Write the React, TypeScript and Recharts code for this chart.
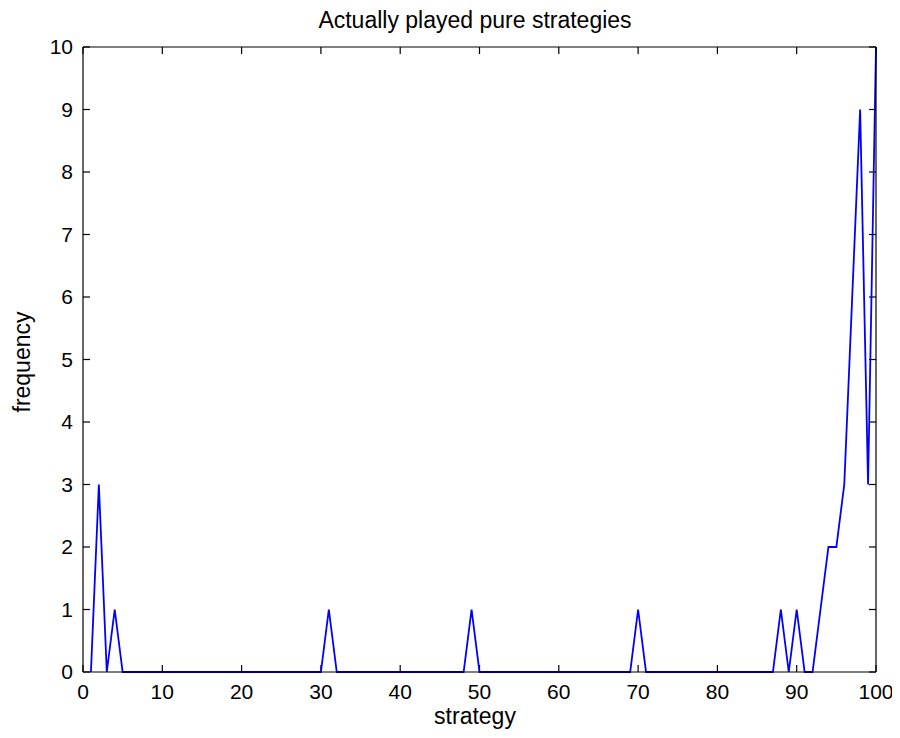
import * as React from 'react';
import { LineChart, Line, XAxis, YAxis, ReferenceLine } from 'recharts';

// frequency of each pure strategy 1..100
const frequencies = [
  0, 3, 0, 1, 0, 0, 0, 0, 0, 0,
  0, 0, 0, 0, 0, 0, 0, 0, 0, 0,
  0, 0, 0, 0, 0, 0, 0, 0, 0, 0,
  1, 0, 0, 0, 0, 0, 0, 0, 0, 0,
  0, 0, 0, 0, 0, 0, 0, 0, 1, 0,
  0, 0, 0, 0, 0, 0, 0, 0, 0, 0,
  0, 0, 0, 0, 0, 0, 0, 0, 0, 1,
  0, 0, 0, 0, 0, 0, 0, 0, 0, 0,
  0, 0, 0, 0, 0, 0, 0, 1, 0, 1,
  0, 0, 1, 2, 2, 3, 6, 9, 3, 10,
];
const xTicks = [0, 10, 20, 30, 40, 50, 60, 70, 80, 90, 100];
const yTicks = [0, 1, 2, 3, 4, 5, 6, 7, 8, 9, 10];

const data = frequencies.map((f, i) => ({ strategy: i + 1, frequency: f }));

const FONT = '"Liberation Sans", Arial, sans-serif';
const tickFont = { fontSize: 21, fill: '#000', fontFamily: FONT };
const black = { stroke: '#000', strokeWidth: 1.2 };
const TL = 7; // inward tick length, matlab style

// short tick marks at both ends of a vertical reference line
const xTickShape = (p: any) => {
  const top = Math.min(p.y1, p.y2);
  const bot = Math.max(p.y1, p.y2);
  return (
    <g>
      <line x1={p.x1} y1={bot} x2={p.x1} y2={bot - TL} stroke="#000" strokeWidth={1.2} />
      <line x1={p.x1} y1={top} x2={p.x1} y2={top + TL} stroke="#000" strokeWidth={1.2} />
    </g>
  );
};
const yTickShape = (p: any) => {
  const l = Math.min(p.x1, p.x2);
  const r = Math.max(p.x1, p.x2);
  return (
    <g>
      <line x1={l} y1={p.y1} x2={l + TL} y2={p.y1} stroke="#000" strokeWidth={1.2} />
      <line x1={r} y1={p.y1} x2={r - TL} y2={p.y1} stroke="#000" strokeWidth={1.2} />
    </g>
  );
};

export default function App() {
  return (
    <div style={{ position: 'relative', width: 892, height: 730, fontFamily: FONT, color: '#000' }}>
      <div style={{ position: 'absolute', left: 0, width: 934, top: 1, textAlign: 'center', fontSize: 23, lineHeight: '23px' }}>
        Actually played pure strategies
      </div>
      <LineChart width={892} height={730} data={data} margin={{ top: 38, right: 23, left: 0, bottom: 0 }}>
        <XAxis
          xAxisId="b"
          dataKey="strategy"
          type="number"
          domain={[0, 100]}
          ticks={xTicks}
          interval={0}
          height={66}
          tickSize={0}
          tickMargin={12}
          tickLine={false}
          axisLine={black}
          tick={tickFont}
        />
        <XAxis
          xAxisId="t"
          orientation="top"
          dataKey="strategy"
          type="number"
          domain={[0, 100]}
          ticks={xTicks}
          height={1}
          tickLine={false}
          axisLine={black}
          tick={false}
        />
        <YAxis
          yAxisId="l"
          type="number"
          domain={[0, 10]}
          ticks={yTicks}
          interval={0}
          width={75}
          tickSize={0}
          tickMargin={10}
          tickLine={false}
          axisLine={black}
          tick={tickFont}
        />
        <YAxis
          yAxisId="r"
          orientation="right"
          type="number"
          domain={[0, 10]}
          ticks={yTicks}
          width={1}
          tickLine={false}
          axisLine={black}
          tick={false}
        />
        {xTicks.map((t) => (
          <ReferenceLine key={`xt-${t}`} xAxisId="b" yAxisId="l" x={t} shape={xTickShape} />
        ))}
        {yTicks.map((t) => (
          <ReferenceLine key={`yt-${t}`} xAxisId="b" yAxisId="l" y={t} shape={yTickShape} />
        ))}
        <Line
          xAxisId="b"
          yAxisId="l"
          type="linear"
          dataKey="frequency"
          stroke="#0000ff"
          strokeWidth={1.8}
          dot={false}
          isAnimationActive={false}
        />
      </LineChart>
      <div style={{ position: 'absolute', left: 0, width: 934, top: 697, textAlign: 'center', fontSize: 23, lineHeight: '23px' }}>
        strategy
      </div>
      <div
        style={{
          position: 'absolute',
          left: 14,
          top: 354,
          fontSize: 23,
          lineHeight: '23px',
          whiteSpace: 'nowrap',
          transform: 'translate(-50%, -50%) rotate(-90deg)',
        }}
      >
        frequency
      </div>
    </div>
  );
}
